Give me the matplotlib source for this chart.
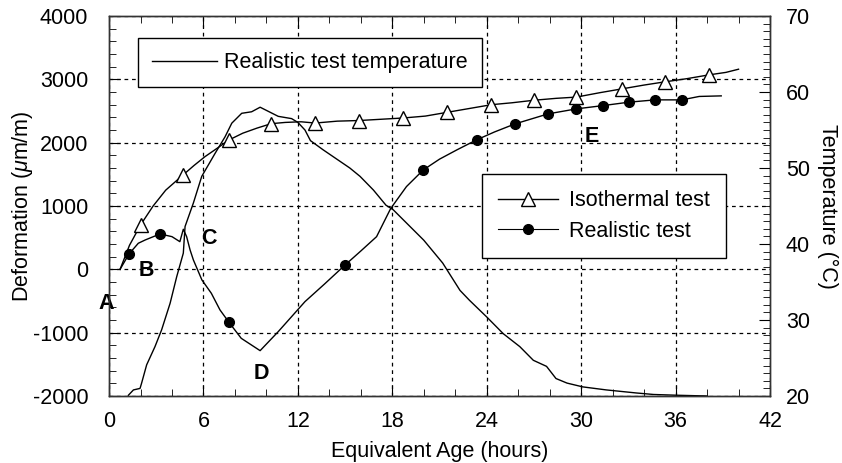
import matplotlib
matplotlib.use("Agg")
import matplotlib.pyplot as plt
import numpy as np
from matplotlib.lines import Line2D
from matplotlib.ticker import MultipleLocator

plt.rcParams['font.family'] = ['Liberation Sans', 'DejaVu Sans']
plt.rcParams['mathtext.fontset'] = 'custom'
plt.rcParams['mathtext.it'] = 'Liberation Sans:italic'
plt.rcParams['mathtext.rm'] = 'Liberation Sans'
plt.rcParams['axes.unicode_minus'] = False

# isothermal test deformation (um/m)
iso_age = [0.7, 1.3, 2.0, 2.8, 3.6, 4.7, 5.4, 6.1, 6.8, 7.6, 8.5, 9.4, 10.3, 11.2, 12.2,
           13.1, 14.5, 15.9, 17.3, 18.7, 20.1, 21.5, 22.9, 24.3, 25.6, 27.0, 28.4,
           29.7, 31.2, 32.6, 34.0, 35.3, 36.7, 38.1, 39.2, 40.0]
iso_def = [0, 380, 700, 1000, 1250, 1490, 1640, 1780, 1900, 2040, 2150, 2230, 2300, 2320, 2330,
           2310, 2340, 2350, 2370, 2390, 2420, 2480, 2540, 2600, 2630, 2670, 2700,
           2720, 2790, 2850, 2910, 2960, 3010, 3070, 3110, 3160]
iso_mark_age = [2.0, 4.7, 7.6, 10.3, 13.1, 15.9, 18.7, 21.5, 24.3, 27.0, 29.7, 32.6, 35.3, 38.1]

# realistic test deformation (um/m)
real_age = [0.7, 1.27, 1.86, 2.3, 3.24, 4.0, 4.5, 4.72, 4.93, 5.15, 5.36, 5.9, 6.5, 7.05,
            7.62, 8.4, 9.6, 10.75, 11.6, 12.45, 13.7, 15.0, 16.0, 17.0, 17.85, 18.06,
            18.9, 19.97, 21.0, 22.1, 23.35, 24.5, 25.8, 27.9, 29.7, 31.4, 33.05, 34.7,
            36.4, 37.5, 38.9]
real_def = [0, 243, 412, 464, 559, 516, 437, 633, 516, 306, 148, -167, -378, -641,
            -836, -1089, -1284, -984, -747, -510, -230, 69, 290, 516, 938, 1017,
            1307, 1570, 1740, 1886, 2044, 2170, 2297, 2455, 2534, 2586, 2640, 2676,
            2676, 2730, 2739]
real_mark_age = [1.27, 3.24, 7.62, 15.0, 19.97, 23.35, 25.8, 27.9, 29.7, 31.4, 33.05, 34.7, 36.4]

# realistic test temperature (C)
temp_age = [1.23, 1.55, 1.97, 2.07, 2.39, 2.92, 3.34, 3.88, 4.3, 4.72, 4.83, 5.36, 5.89,
            6.73, 7.37, 7.8, 8.43, 9.06, 9.6, 10.75, 11.6, 12.0, 12.45, 12.8, 13.6,
            15.3, 15.95, 16.8, 17.6, 18.06, 20.0, 21.2, 22.3, 22.9, 24.0, 25.05, 26.1,
            26.96, 27.8, 28.4, 29.1, 30.1, 31.6, 33.5, 34.6, 36.1, 38.0]
temp_val = [20.1, 20.8, 21.0, 21.7, 24.1, 26.5, 28.7, 32.2, 35.7, 38.8, 42.3, 45.4, 48.9,
            51.9, 54.1, 55.9, 57.2, 57.4, 58.0, 56.8, 56.5, 56.0, 55.0, 53.6, 52.4,
            50.0, 48.9, 47.1, 45.1, 44.5, 40.5, 37.5, 33.9, 32.6, 30.4, 28.2, 26.5,
            24.7, 23.9, 22.3, 21.7, 21.2, 20.8, 20.4, 20.2, 20.1, 20.0]

# point labels
lab_text = ['A', 'B', 'C', 'D', 'E']
lab_age = [-0.19, 2.35, 6.35, 9.66, 30.7]
lab_def = [-547, -25, 480, -1652, 2092]

fig = plt.figure(figsize=(8.42, 4.63), dpi=100)
ax = fig.add_axes([0.1295, 0.1447, 0.785, 0.8207])
ax2 = ax.twinx()

fs = 15.5

ax.plot(iso_age, iso_def, color='black', lw=1.0)
ax.plot(iso_mark_age, np.interp(iso_mark_age, iso_age, iso_def), ls='none', marker='^',
        ms=10, mfc='white', mec='black', mew=1.0)
ax.plot(real_age, real_def, color='black', lw=1.0)
ax.plot(real_mark_age, np.interp(real_mark_age, real_age, real_def), ls='none', marker='o',
        ms=7, color='black')
ax2.plot(temp_age, temp_val, color='black', lw=1.0)

for t, x, y in zip(lab_text, lab_age, lab_def):
    ax.text(x, y, t, fontsize=fs, fontweight='bold', ha='center', va='center', clip_on=False)

ax.set_xlim(0, 42)
ax.set_ylim(-2000, 4000)
ax2.set_ylim(20, 70)
ax.xaxis.set_major_locator(MultipleLocator(6))
ax.xaxis.set_minor_locator(MultipleLocator(2))
ax.yaxis.set_major_locator(MultipleLocator(1000))
ax.yaxis.set_minor_locator(MultipleLocator(200))
ax2.yaxis.set_major_locator(MultipleLocator(10))
ax2.yaxis.set_minor_locator(MultipleLocator(1))

ax.grid(True, which='major', ls=(0, (3, 3)), color='black', lw=0.9)
ax.tick_params(which='both', direction='in', top=True, labelsize=fs, colors='black')
ax.tick_params(axis='x', which='both', pad=11)
ax.tick_params(axis='y', which='both', pad=15, right=False)
ax.tick_params(which='major', length=8)
ax.tick_params(which='minor', length=5)
ax2.tick_params(which='both', direction='in', labelsize=fs, pad=11.5)
ax2.tick_params(which='major', length=8)
ax2.tick_params(which='minor', length=5)
for a in (ax, ax2):
    for s in a.spines.values():
        s.set_color('#333333')
        s.set_linewidth(1.0)

ax.set_xlabel('Equivalent Age (hours)', fontsize=fs, labelpad=6)
ax.set_ylabel(r'Deformation ($\mu$m/m)', fontsize=fs, labelpad=-2)
ax2.set_ylabel('Temperature (°C)', fontsize=fs, rotation=270, labelpad=20)

h1 = [Line2D([], [], color='black', lw=1.0)]
leg1 = ax2.legend(h1, ['Realistic test temperature'], loc='upper left',
                  bbox_to_anchor=(0.044, 0.942), fontsize=fs, frameon=True, fancybox=False,
                  edgecolor='black', framealpha=1, handlelength=3.0, handletextpad=0.35,
                  borderpad=0.65, borderaxespad=0)
leg1.get_frame().set_linewidth(1.0)

h2 = [Line2D([], [], color='black', lw=1.0, marker='^', ms=10, mfc='white', mec='black'),
      Line2D([], [], color='black', lw=0.8, marker='o', ms=7)]
leg2 = ax2.legend(h2, ['Isothermal test', 'Realistic test'], loc='upper left',
                  bbox_to_anchor=(0.564, 0.584), fontsize=fs, frameon=True, fancybox=False,
                  edgecolor='black', framealpha=1, handlelength=2.8, handletextpad=0.5,
                  borderpad=0.75, labelspacing=0.45, borderaxespad=0)
leg2.get_frame().set_linewidth(1.0)
ax2.add_artist(leg1)

fig.savefig('out.png', dpi=100)
